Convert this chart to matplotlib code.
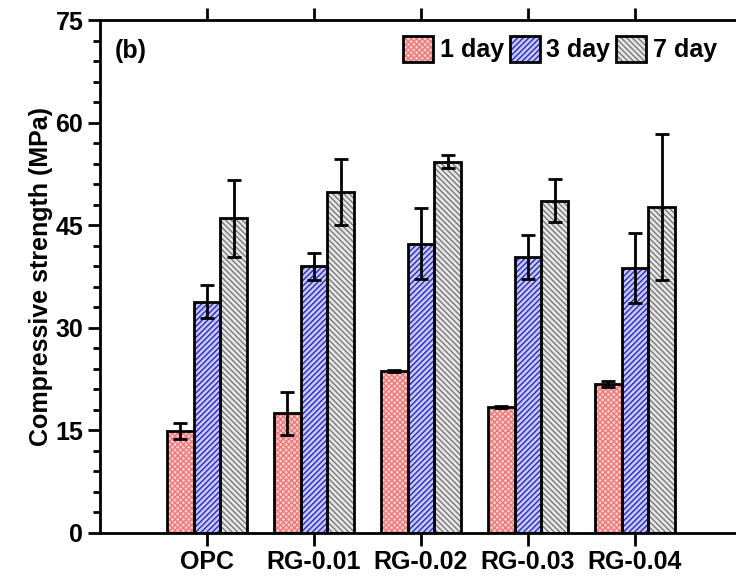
import matplotlib
matplotlib.use("Agg")
import matplotlib.pyplot as plt
from matplotlib.patches import Patch
from matplotlib.ticker import MultipleLocator
import numpy as np

plt.rcParams['font.family'] = ['Liberation Sans', 'DejaVu Sans']
plt.rcParams['font.weight'] = 'bold'
plt.rcParams['hatch.linewidth'] = 1.0

categories = ["OPC", "RG-0.01", "RG-0.02", "RG-0.03", "RG-0.04"]
series = ["1 day", "3 day", "7 day"]
day1 = [14.9, 17.5, 23.7, 18.4, 21.8]
day1_err = [1.2, 3.1, 0.1, 0.1, 0.4]
day3 = [33.8, 39.0, 42.3, 40.3, 38.7]
day3_err = [2.4, 2.0, 5.2, 3.2, 5.1]
day7 = [46.0, 49.9, 54.3, 48.6, 47.7]
day7_err = [5.6, 4.8, 0.9, 3.1, 10.7]

values = [day1, day3, day7]
errors = [day1_err, day3_err, day7_err]
faces = ["#fbd0d0", "#c8c8f4", "#e6e6e6"]
hatch_cols = ["#ec7a7a", "#2a2ac0", "#7a7a7a"]
hatches = ["xxxxxx", "//////", "\\\\\\\\\\\\"]

fig = plt.figure(figsize=(7.36, 5.8), dpi=100)
ax = fig.add_axes([100 / 736, 47 / 580, 642 / 736, 513 / 580])

x = np.arange(1, len(categories) + 1)
w = 0.25
handles = []
for i, (vals, errs) in enumerate(zip(values, errors)):
    pos = x + (i - 1) * w
    # hatched fill, then a black outline on top
    ax.bar(pos, vals, w, color=faces[i], edgecolor=hatch_cols[i],
           hatch=hatches[i], linewidth=0, zorder=2)
    ax.bar(pos, vals, w, fill=False, edgecolor="black", linewidth=2, zorder=3)
    ax.errorbar(pos, vals, yerr=errs, fmt="none", ecolor="black",
                elinewidth=2, capsize=5, capthick=2, zorder=4)
    h1 = Patch(facecolor=faces[i], edgecolor=hatch_cols[i], hatch=hatches[i], linewidth=0)
    h2 = Patch(fill=False, edgecolor="black", linewidth=2)
    handles.append((h1, h2))

ax.set_xlim(0, 6)
ax.set_ylim(0, 75)
ax.set_xticks(x)
ax.set_xticklabels(categories, fontsize=18, fontweight="bold")
ax.yaxis.set_major_locator(MultipleLocator(15))
ax.yaxis.set_minor_locator(MultipleLocator(3))
ax.tick_params(axis="y", which="major", direction="out", length=9, width=2, labelsize=18, pad=3)
ax.tick_params(axis="y", which="minor", direction="out", length=5, width=2)
ax.tick_params(axis="x", which="major", direction="out", length=9, width=2, labelsize=18,
               top=True, pad=3)
for lab in ax.get_yticklabels():
    lab.set_fontweight("bold")
for s in ax.spines.values():
    s.set_linewidth(2)
ax.set_ylabel("Compressive strength (MPa)", fontsize=18, fontweight="bold", labelpad=2)

ax.text(15 / 642, 0.94, "(b)", transform=ax.transAxes, fontsize=18, fontweight="bold",
        va="center", ha="left")
ax.legend(handles, series, ncol=3, loc="upper right", bbox_to_anchor=(633 / 642, 1.0),
          frameon=False, handlelength=1.2, handleheight=1.2,
          handletextpad=0.25, columnspacing=0.25, borderaxespad=0.25,
          prop={"weight": "bold", "size": 18})

fig.savefig("out.png", dpi=100)
